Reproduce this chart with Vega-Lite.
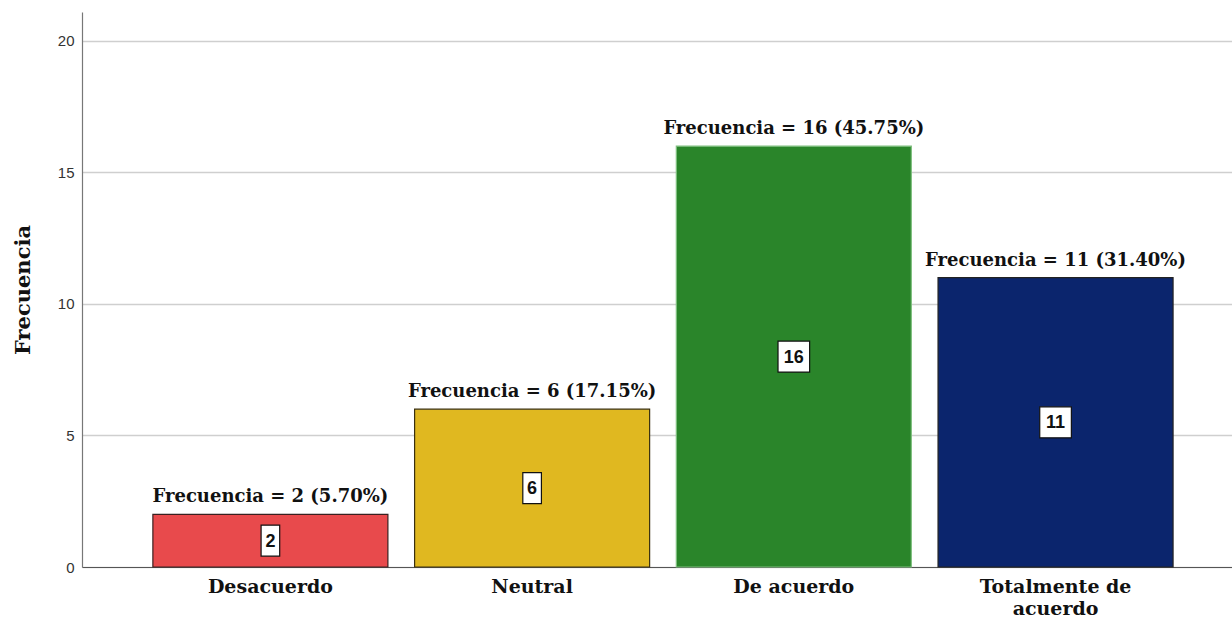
{
  "$schema": "https://vega.github.io/schema/vega-lite/v6.json",
  "width": 1150,
  "height": 555,
  "autosize": {"type": "none"},
  "padding": {"left": 82, "top": 12, "right": 0, "bottom": 56},
  "background": "white",
  "config": {"view": {"stroke": null}},
  "data": {"values": [
    {"cat": "Desacuerdo", "n": 2, "label": "Frecuencia = 2 (5.70%)"},
    {"cat": "Neutral", "n": 6, "label": "Frecuencia = 6 (17.15%)"},
    {"cat": "De acuerdo", "n": 16, "label": "Frecuencia = 16 (45.75%)"},
    {"cat": "Totalmente de acuerdo", "n": 11, "label": "Frecuencia = 11 (31.40%)"}
  ]},
  "encoding": {
    "x": {"field": "cat", "type": "nominal", "sort": null,
      "scale": {"paddingInner": 0.102, "paddingOuter": 0.248, "align": 0.546},
      "axis": {"title": null, "labelAngle": 0, "ticks": false, "domainColor": "#555", "domainWidth": 1.2,
        "labelFont": "DejaVu Serif", "labelFontWeight": "bold", "labelFontSize": 19, "labelColor": "#111",
        "labelPadding": 10, "labelLineHeight": 22,
        "labelExpr": "datum.label == 'Totalmente de acuerdo' ? ['Totalmente de', 'acuerdo'] : datum.label"}
    }
  },
  "layer": [
    {
      "encoding": {
        "y": {"field": "n", "type": "quantitative",
          "scale": {"domain": [0, 21.1], "nice": false},
          "axis": {"title": "Frecuencia", "values": [0, 5, 10, 15, 20], "ticks": false, "labelPadding": 8,
            "labelFont": "Liberation Sans", "labelFontSize": 15, "labelColor": "#333",
            "domainColor": "#777", "domainWidth": 1.2, "gridColor": "#cfcfcf", "gridWidth": 1.5,
            "titleFont": "DejaVu Serif", "titleFontWeight": "bold", "titleFontSize": 21, "titleColor": "#111",
            "titlePadding": 24}}
      },
      "layer": [
        {
          "mark": {"type": "bar", "strokeWidth": 1.2},
          "encoding": {
            "color": {"field": "cat", "type": "nominal", "legend": null,
              "scale": {"domain": ["Desacuerdo", "Neutral", "De acuerdo", "Totalmente de acuerdo"],
                "range": ["#E84A4C", "#E0B820", "#2A852A", "#0B256D"]}},
            "stroke": {"field": "cat", "type": "nominal", "legend": null,
              "scale": {"domain": ["Desacuerdo", "Neutral", "De acuerdo", "Totalmente de acuerdo"],
                "range": ["#3a2020", "#3a3010", "#7fc07f", "#222"]}}
          }
        },
        {
          "mark": {"type": "text", "baseline": "alphabetic", "dy": -12, "font": "DejaVu Serif", "fontWeight": "bold", "fontSize": 18, "color": "#111"},
          "encoding": {
            "text": {"field": "label", "type": "nominal"}
          }
        }
      ]
    },
    {
      "encoding": {
        "y": {"field": "n", "type": "quantitative", "scale": {"domain": [0, 42.2], "nice": false}, "axis": null}
      },
      "layer": [
        {
          "mark": {"type": "point", "filled": true, "fill": "white", "stroke": "#111", "strokeWidth": 1.2, "size": 961, "opacity": 1},
          "encoding": {
            "shape": {"condition": {"test": "datum.n < 10", "value": "M-0.6,-1H0.6V1H-0.6Z"}, "value": "M-1.02,-1H1.02V1H-1.02Z"}
          }
        },
        {
          "mark": {"type": "text", "font": "Liberation Sans", "fontWeight": "bold", "fontSize": 18, "color": "#111", "baseline": "middle", "dy": 1},
          "encoding": {"text": {"field": "n", "type": "quantitative"}}
        }
      ]
    }
  ],
  "resolve": {"scale": {"y": "independent"}}
}
